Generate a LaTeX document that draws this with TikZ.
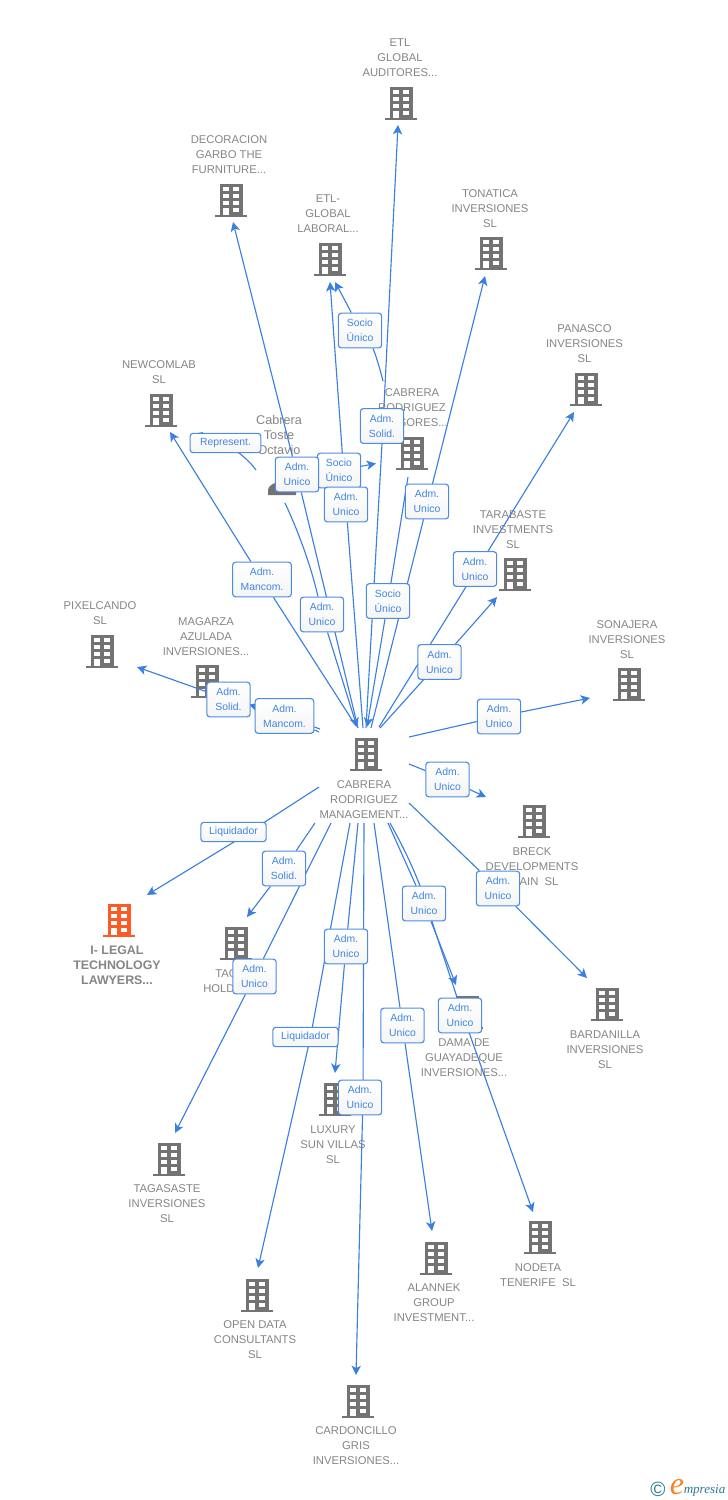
\documentclass[tikz,border=0pt]{standalone}
\usepackage{fontspec}
\setmainfont{Liberation Sans}
\newfontfamily\logofont{Liberation Serif}
\usetikzlibrary{arrows.meta,calc,backgrounds}
\definecolor{edgeblue}{HTML}{3B7FE0}
\definecolor{labelblue}{HTML}{4A8CE4}
\definecolor{labeltext}{HTML}{3F86E2}
\definecolor{icongray}{HTML}{737373}
\definecolor{textgray}{HTML}{858585}
\definecolor{iconorange}{HTML}{FF5A26}
\definecolor{logoteal}{HTML}{2F7A94}
\definecolor{logoorange}{HTML}{F5831F}
\pgfdeclarelayer{icons}
\pgfdeclarelayer{edges}
\pgfsetlayers{icons,edges,main}
\tikzset{
  bicon/.style={inner sep=0pt,minimum width=24pt,minimum height=25pt},
  ntext/.style={font=\fontsize{8.45}{11.25}\selectfont,text=textgray,align=center,inner sep=0pt},
  ptext/.style={font=\fontsize{9.5}{11.25}\selectfont,text=textgray,align=center,inner sep=0pt},
  otext/.style={font=\fontsize{9.3}{11.25}\selectfont\bfseries,text=textgray,align=center,inner sep=0pt},
  lab/.style={draw=labelblue,line width=0.85pt,rounded corners=2.2pt,top color=white,bottom color=black!4,
    font=\fontsize{7.8}{11.25}\selectfont,text=labeltext,align=center,inner sep=0pt,
    minimum width=32.5pt,minimum height=26pt},
  labw/.style={lab,minimum height=14.5pt},
  conn/.style={draw=edgeblue,line width=0.85pt},
  arr/.style={conn,-{Stealth[length=7pt,width=7pt,inset=1.8pt]}},
}
\newcommand\bldg[3][icongray]{%
  \begin{pgfonlayer}{icons}
  \node[bicon] (#2) at (#3) {};
  \begin{scope}[shift={(#2.center)}]
    \fill[#1] (-11.5,-16.5) rectangle (11.5,14.5);
    \fill[#1] (-16,14.5) rectangle (16,16.7);
    \fill[white] (-7.7,-13) rectangle (-2.2,-8.7);
    \fill[white] (2.3,-13) rectangle (7.8,-8.7);
    \fill[white] (-7.7,-6) rectangle (-2.2,-1.7);
    \fill[white] (2.3,-6) rectangle (7.8,-1.7);
    \fill[white] (-7.7,1) rectangle (-2.2,5.2);
    \fill[white] (2.3,1) rectangle (7.8,5.2);
    \fill[white] (-7.7,8) rectangle (-2.2,14.5);
    \fill[white] (2.3,8) rectangle (7.8,12);
  \end{scope}
  \end{pgfonlayer}}
\newcommand\ntxt[3]{\begin{pgfonlayer}{icons}\node[ntext] (#1) at ($(#2)+(0,1)$) {#3};\end{pgfonlayer}}
\begin{document}
\begin{tikzpicture}[x=0.75pt,y=-0.75pt]
\useasboundingbox (0,0) rectangle (728,1500);
% buildings
\bldg{hub}{366,754}
\bldg{etlg}{401,103}
\bldg{deco}{231,200}
\bldg{etll}{330,259}
\bldg{tona}{491,253}
\bldg{pana}{586,389}
\bldg{ases}{412,453}
\bldg{newc}{161,410}
\bldg{tara}{515,574}
\bldg{sona}{629,684}
\bldg{pixe}{102,651}
\bldg{maga}{207,681}
\bldg{brec}{534,821}
\bldg[iconorange]{ileg}{119,920}
\bldg{tago}{236,943}
\bldg{dama}{467,1012}
\bldg{bard}{607,1004}
\bldg{luxu}{335,1099}
\bldg{taga}{169,1159}
\bldg{open}{257,1295}
\bldg{alan}{436,1258}
\bldg{node}{540,1237}
\bldg{card}{358,1401}
% person
\begin{pgfonlayer}{icons}
\node[bicon] (toste) at (282,478) {};
\fill[icongray] (268,495) -- (268,491) .. controls (268,484) and (276,482) .. (282,482)
  .. controls (288,482) and (296,484) .. (296,491) -- (296,495) -- cycle;
\end{pgfonlayer}
% names
\ntxt{thub}{364,799}{CABRERA\\RODRIGUEZ\\MANAGEMENT...}
\ntxt{tetlg}{400,57}{ETL\\GLOBAL\\AUDITORES...}
\ntxt{tdeco}{229,154}{DECORACION\\GARBO THE\\FURNITURE...}
\ntxt{tetll}{328,213}{ETL-\\GLOBAL\\LABORAL...}
\ntxt{ttona}{490,208}{TONATICA\\INVERSIONES\\SL}
\ntxt{tpana}{584.5,343}{PANASCO\\INVERSIONES\\SL}
\ntxt{tases}{412,407}{CABRERA\\RODRIGUEZ\\ASESORES...}
\ntxt{tnewc}{159,371.5}{NEWCOMLAB\\SL}
\ntxt{ttara}{513,529}{TARABASTE\\INVESTMENTS\\SL}
\ntxt{tsona}{627,639}{SONAJERA\\INVERSIONES\\SL}
\ntxt{tpixe}{100,612.5}{PIXELCANDO\\SL}
\ntxt{tmaga}{206,636}{MAGARZA\\AZULADA\\INVERSIONES...}
\ntxt{tbrec}{532,866}{BRECK\\DEVELOPMENTS\\SPAIN\ \ SL}
\ntxt{tdama}{464,1057}{DAMA DE\\GUAYADEQUE\\INVERSIONES...}
\ntxt{tbard}{605,1049}{BARDANILLA\\INVERSIONES\\SL}
\ntxt{tluxu}{333,1144}{LUXURY\\SUN VILLAS\\SL}
\ntxt{ttaga}{167,1203}{TAGASASTE\\INVERSIONES\\SL}
\ntxt{topen}{255,1339}{OPEN DATA\\CONSULTANTS\\SL}
\ntxt{talan}{434,1302}{ALANNEK\\GROUP\\INVESTMENT...}
\ntxt{tnode}{538,1274.5}{NODETA\\TENERIFE\ \ SL}
\ntxt{tcard}{356,1445}{CARDONCILLO\\GRIS\\INVERSIONES...}
\begin{pgfonlayer}{icons}
\node[ntext,align=right,anchor=east] (ttago) at (238,981.5) {TAG\\HOLDI};
\node[otext] (tileg) at (117,965.5) {I- LEGAL\\TECHNOLOGY\\LAWYERS...};
\node[ptext] (ttoste) at (279,434.5) {Cabrera\\Toste\\Octavio};
\end{pgfonlayer}
% labels
\node[lab] (l1) at (360,330.5) {Socio\\Único};
\node[lab] (l2) at (382,426) {Adm.\\Solid.};
\node[labw,minimum width=53pt] (l3) at (225.5,443) {Represent.};
\node[lab] (l5) at (339,470.5) {Socio\\Único};
\node[lab] (l4) at (297,474.5) {Adm.\\Unico};
\node[lab] (l6) at (346,504.5) {Adm.\\Unico};
\node[lab] (l7) at (427,501.5) {Adm.\\Unico};
\node[lab] (l8) at (475,569) {Adm.\\Unico};
\node[lab,minimum width=44pt] (l9) at (262,579.5) {Adm.\\Mancom.};
\node[lab] (l10) at (388,601) {Socio\\Único};
\node[lab] (l11) at (322,614.5) {Adm.\\Unico};
\node[lab] (l12) at (439.5,662) {Adm.\\Unico};
\node[lab] (l13) at (228.5,699.5) {Adm.\\Solid.};
\node[lab,minimum width=44pt] (l14) at (284.5,716) {Adm.\\Mancom.};
\node[lab] (l15) at (499,716.5) {Adm.\\Unico};
\node[lab] (l16) at (447.5,779.5) {Adm.\\Unico};
\node[labw,minimum width=49pt] (l17) at (233.5,832) {Liquidador};
\node[lab] (l18) at (284,868.5) {Adm.\\Solid.};
\node[lab] (l19) at (498,888.5) {Adm.\\Unico};
\node[lab] (l20) at (424,903.5) {Adm.\\Unico};
\node[lab] (l21) at (346,946.5) {Adm.\\Unico};
\node[lab] (l22) at (254.5,976.5) {Adm.\\Unico};
\node[lab] (l23) at (460,1015.5) {Adm.\\Unico};
\node[lab] (l24) at (402.5,1025.5) {Adm.\\Unico};
\node[labw,minimum width=49pt] (l25) at (305.5,1037) {Liquidador};
\node[lab] (l26) at (360,1097.5) {Adm.\\Unico};
% free ends
\coordinate (tEtlg) at (398,125);
\coordinate (tDeco) at (233,222);
\coordinate (tEtll) at (330,282);
\coordinate (tEtl2) at (335,282);
\coordinate (tTona) at (485,276);
\coordinate (tPana) at (574,412);
\coordinate (tNewc) at (170,432);
\coordinate (tNew2) at (193,434);
\coordinate (tAses) at (376,463.5);
\coordinate (tTara) at (497,597);
\coordinate (tSona) at (590,698);
\coordinate (tBrec) at (486,797);
\coordinate (tPixe) at (137,667);
\coordinate (tMaga) at (249,704.5);
\coordinate (tHub1) at (357,727);
\coordinate (tHub2) at (367,727);
\coordinate (tBard) at (587,978);
\coordinate (tIleg) at (147,895);
\coordinate (tTago) at (247,917);
\coordinate (tTaga) at (175,1133);
\coordinate (tOpen) at (258,1268);
\coordinate (tLuxu) at (335,1073);
\coordinate (tCard) at (356,1375);
\coordinate (tAlan) at (432,1231);
\coordinate (tDama) at (456,985);
\coordinate (tNode) at (533,1212);
\coordinate (sEtlg) at (366,728);
\coordinate (sDeco) at (358,728);
\coordinate (sEtll) at (363,728);
\coordinate (sTona) at (371,728);
\coordinate (sPana) at (379,727);
\coordinate (sTara) at (380,728);
\coordinate (sNewc) at (356,726);
\coordinate (sSona) at (409,737);
\coordinate (sBrec) at (409,764);
\coordinate (sBard) at (409,803);
\coordinate (sIleg) at (319,787);
\coordinate (sTago) at (315,823);
\coordinate (sTaga) at (331,823);
\coordinate (sOpen) at (350,823);
\coordinate (sLuxu) at (358,823);
\coordinate (sCard) at (364,823);
\coordinate (sAlan) at (374,823);
\coordinate (sDama) at (388,823);
\coordinate (sNode) at (390,823);
\coordinate (sMag1) at (319,732);
\coordinate (sMag2) at (320,729);
\coordinate (sTos1) at (285,503);
\coordinate (sTos2) at (256,470);
\coordinate (sAse1) at (408,477);
\coordinate (sAse2) at (383,381);
% connectors
\begin{pgfonlayer}{edges}
\draw[arr] (sEtlg) -- ($(l2)+(1,0)$) -- (tEtlg);
\draw[arr] (sDeco) -- (l4) -- (tDeco);
\draw[arr] (sEtll) -- (l6) -- (tEtll);
\draw[arr] (sTona) -- ($(l7)+(1,0)$) -- (tTona);
\draw[arr] (sPana) -- ($(l8)+(2,0)$) -- (tPana);
\draw[arr] (sTara) -- (l12) -- (tTara);
\draw[arr] (sNewc) -- (l9) -- (tNewc);
\draw[arr] (sSona) -- (l15) -- (tSona);
\draw[arr] (sBrec) -- (l16) -- (tBrec);
\draw[arr] (sBard) -- (l19) -- (tBard);
\draw[arr] (sIleg) -- (l17.south) -- (tIleg);
\draw[arr] (sTago) -- (l18) -- (tTago);
\draw[arr] (sTaga) -- (l22) -- (tTaga);
\draw[arr] (sOpen) -- ($(l25)+(5,0)$) -- (tOpen);
\draw[arr] (sLuxu) -- (l21) -- (tLuxu);
\draw[arr] (sCard) -- ($(l26)+(3,0)$) -- (tCard);
\draw[arr] (sAlan) -- (l24) -- (tAlan);
\draw[arr] (sDama) -- (l20) -- (tDama);
\draw[arr] (sNode) .. controls (405,850) and (420,880) .. ($(l20)+(8,18)$) -- ($(l23)+(3,0)$) -- (tNode);
\draw[arr] (sTos1) .. controls (300,535) and (312,570) .. (l11) -- (tHub1);
\draw[arr] (sAse1) -- (l10) -- (tHub2);
\draw[arr] (sAse2) .. controls (379,365) and (374,350) .. (l1) .. controls (349,308) and (342,295) .. (tEtl2);
\draw[arr] (l5) -- (tAses);
\draw[arr] (sTos2) .. controls (250,462) and (244,456) .. (l3.center) -- (tNew2);
\draw[arr] (l13) -- (tPixe);
\draw[arr] (sMag1) -- (l14) -- (tMaga);
\draw[conn] (sMag2) -- (l14);
\end{pgfonlayer}
% logo
\node[text=logoteal,inner sep=0pt,font=\fontsize{15.5}{16}\selectfont] (lc) at (658,1489) {©};
\node[text=logoorange,inner sep=0pt,anchor=base,font=\logofont\itshape\fontsize{24}{25}\selectfont] (le) at (677,1494) {e};
\node[text=logoteal,inner sep=0pt,anchor=base west,font=\logofont\itshape\fontsize{9.8}{10}\selectfont] (lm) at (683.5,1493) {mpresia};
\end{tikzpicture}
\end{document}
